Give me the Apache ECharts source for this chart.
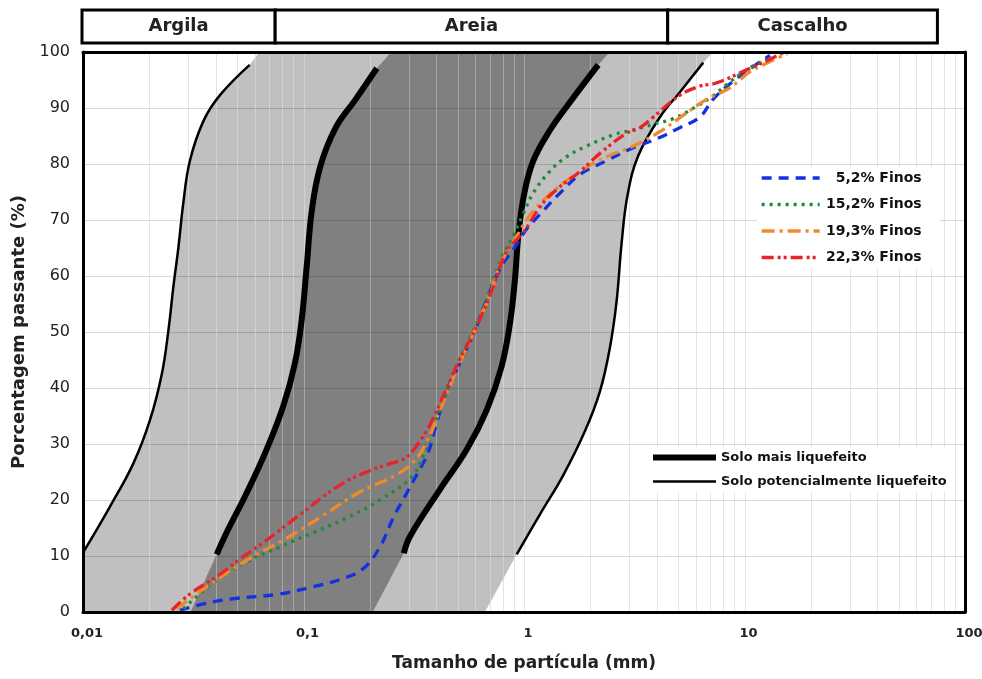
<!DOCTYPE html>
<html><head><meta charset="utf-8">
<script src="https://cdn.jsdelivr.net/npm/echarts@6/dist/echarts.min.js"></script>
<style>html,body{margin:0;padding:0;background:#fff}#c{width:982px;height:679px}</style>
</head><body><div id="c"></div>
<script>
// ---------- data ----------
const xTickLabels = ['0,01', '0,1', '1', '10', '100'];
const yGridValues = [10, 20, 30, 40, 50, 60, 70, 80, 90];
const xGridValues = [0.02,0.03,0.04,0.05,0.06,0.07,0.08,0.09,
  0.1,0.2,0.3,0.4,0.5,0.6,0.7,0.8,0.9,
  1,2,3,4,5,6,7,8,9,
  10,20,30,40,50,60,70,80,90];
const classNames = ['Argila', 'Areia', 'Cascalho'];
const classBounds = [0.01, 0.075, 4.5, 75];

// envelope curves [mm, % passing]
const thinLeft = [[0.01,10.6],[0.0132,18.7],[0.0169,26.5],[0.0201,34.2],[0.0228,42.6],[0.0244,50.3],[0.0257,58.1],[0.0271,65.2],[0.0285,73],[0.0305,80.5],[0.0352,87.7],[0.0418,92.3],[0.057,97.7]];
const thinRight = [[0.927,10.3],[1.18,17.4],[1.51,24.5],[1.89,32.3],[2.21,39.4],[2.45,47.1],[2.63,55.5],[2.77,65.8],[2.95,74.5],[3.3,81.5],[4.14,88.4],[5.11,92.9],[6.5,98.1]];
const thickLeft = [[0.0404,10.3],[0.0448,14.2],[0.0553,21.3],[0.068,29.0],[0.081,36.8],[0.0915,44.5],[0.0982,52.3],[0.1035,61.9],[0.109,71.6],[0.119,79.5],[0.14,86.5],[0.172,91.5],[0.215,97.1]];
const thickRight = [[0.285,10.5],[0.304,13.5],[0.416,21.9],[0.55,29.0],[0.678,36.1],[0.792,43.9],[0.864,51.6],[0.91,59.4],[0.942,67.1],[1.0,74.5],[1.1,80.5],[1.3,85.8],[1.6,90.8],[2.17,97.7]];
// band extensions beyond the drawn curves
const lightBandLeftEnds = [[0.01,0],[0.063,100]];
const lightBandRightEnds = [[0.665,0],[7.2,100]];
const darkBandLeftEnds = [[0.0307,0],[0.25,100]];
const darkBandRightEnds = [[0.206,0],[2.45,100]];

// grading curves
const fines52 = [[0.0275,0.3],[0.034,1.3],[0.0465,2.3],[0.078,3.2],[0.11,4.5],[0.1465,5.8],[0.186,7.7],[0.222,11.6],[0.255,16.8],[0.288,20.6],[0.326,24.5],[0.367,28.4],[0.40,33.5],[0.446,39.4],[0.513,44.5],[0.60,50.3],[0.654,54.2],[0.778,61.3],[0.91,65.2],[1.028,68.4],[1.18,71],[1.456,74.8],[1.79,78.1],[2.37,80.6],[3.13,82.9],[4.0,84.5],[5.1,86.5],[6.28,88.4],[7.22,91.6],[8.9,94.8],[10.96,97.4],[13.05,99.4]];
const fines152 = [[0.0285,0.6],[0.039,5.2],[0.0553,9.0],[0.078,11.6],[0.1107,14.2],[0.157,16.8],[0.222,20.0],[0.315,24.5],[0.362,29.7],[0.416,36.1],[0.478,42.6],[0.569,49.0],[0.654,54.2],[0.778,62.6],[0.893,67.1],[0.99,71],[1.10,74.8],[1.31,78.7],[1.56,81.3],[1.92,83.2],[2.54,85.2],[3.13,86.1],[3.86,87.1],[4.76,88.1],[6.0,90.2],[7.22,92.2],[8.3,94.2],[10.2,96.8],[12.6,98.7]];
const fines193 = [[0.0266,0.6],[0.0364,4.5],[0.0562,9.4],[0.084,13.2],[0.121,17.1],[0.1775,21.3],[0.264,24.5],[0.315,26.8],[0.362,30.3],[0.416,36.1],[0.495,43.2],[0.589,49.7],[0.702,56.8],[0.778,61.9],[0.927,67.1],[1.10,71.6],[1.456,76.1],[1.92,79.4],[2.37,81.3],[3.13,83.2],[4.14,85.8],[5.27,88.7],[6.7,91.5],[8.5,93.5],[10.6,96.5],[12.6,98],[15.6,99.7]];
const fines223 = [[0.0253,0.3],[0.0305,3.2],[0.041,6.5],[0.0525,9.7],[0.0669,12.6],[0.0964,17.4],[0.1415,22.3],[0.187,24.8],[0.247,26.5],[0.288,27.4],[0.326,29.7],[0.375,33.5],[0.446,40],[0.513,45.2],[0.61,51.0],[0.726,58.1],[0.836,64.5],[0.99,67.7],[1.18,72.3],[1.41,75.5],[1.80,78.7],[2.21,81.9],[2.92,85.5],[3.36,86.5],[3.86,88.4],[5.10,92.3],[6.28,93.9],[7.5,94.5],[10.6,97.1],[12.6,98.4],[15.0,99.9]];

const seriesNames = ['5,2% Finos', '15,2% Finos', '19,3% Finos', '22,3% Finos'];
const envelopeNames = ['Solo mais liquefeito', 'Solo potencialmente liquefeito'];

// ---------- chart ----------
const FONT = '"DejaVu Sans", "Liberation Sans", sans-serif';
const chart = echarts.init(document.getElementById('c'), null, {renderer: 'canvas'});

function vGrid(color, z) {
  return {
    type: 'custom', silent: true, z: z, xAxisIndex: 0, yAxisIndex: 0,
    data: xGridValues.map(v => [v, 0]),
    renderItem: (p, api) => {
      const a = api.coord([api.value(0), 0]);
      const b = api.coord([api.value(0), 100]);
      const x = Math.round(a[0]) + 0.5;
      return {type: 'line', shape: {x1: x, y1: a[1], x2: x, y2: b[1]}, style: {stroke: color, lineWidth: 1}};
    }
  };
}
function hGrid(color, z) {
  return {
    type: 'custom', silent: true, z: z, xAxisIndex: 0, yAxisIndex: 0,
    data: yGridValues.map(v => [0.01, v]),
    renderItem: (p, api) => {
      const a = api.coord([0.01, api.value(1)]);
      const b = api.coord([100, api.value(1)]);
      const y = Math.round(a[1]) + 0.5;
      return {type: 'line', shape: {x1: a[0], y1: y, x2: b[0], y2: y}, style: {stroke: color, lineWidth: 1}};
    }
  };
}
function band(leftCurve, leftEnds, rightCurve, rightEnds, color, z) {
  const pts = [leftEnds[0]].concat(leftCurve, [leftEnds[1], rightEnds[1]], rightCurve.slice().reverse(), [rightEnds[0]]);
  return {
    type: 'custom', silent: true, z: z, xAxisIndex: 0, yAxisIndex: 0,
    data: [[0.1, 50]],
    renderItem: (p, api) => ({
      type: 'polygon',
      shape: {points: pts.map(pt => api.coord(pt))},
      style: {fill: color}
    })
  };
}
function envLine(name, data, width) {
  return {
    type: 'line', name: name, data: data, smooth: 0.4, symbol: 'none', showSymbol: false, z: 4,
    lineStyle: {color: '#000', width: width, cap: 'butt'}, itemStyle: {color: '#000'}, silent: true, clip: true
  };
}
function gradLine(name, data, color, dash) {
  return {
    type: 'line', name: name, data: data, smooth: 0.4, symbol: 'none', showSymbol: false, z: 5,
    lineStyle: {color: color, width: 3.3, type: dash, cap: 'butt'}, itemStyle: {color: color}, silent: true
  };
}

const option = {
  backgroundColor: '#ffffff',
  animation: false,
  grid: [
    {left: 83, right: 17, top: 52, bottom: 67, outerBoundsMode: 'none', containLabel: false},
    {left: 82, right: 17, top: 10, height: 33, outerBoundsMode: 'none', containLabel: false}
  ],
  xAxis: [
    {
      type: 'log', logBase: 10, gridIndex: 0, min: 0.01, max: 100, position: 'bottom', z: 10,
      axisLine: {show: true, onZero: false, lineStyle: {color: '#000', width: 3}},
      axisTick: {show: false}, splitLine: {show: false}, minorSplitLine: {show: false},
      axisLabel: {
        formatter: v => xTickLabels[Math.round(Math.log10(v)) + 2],
        fontFamily: FONT, fontWeight: 'bold', fontSize: 13, color: '#222', margin: 15, padding: [0, 0, 0, 8]
      },
      name: 'Tamanho de partícula (mm)', nameLocation: 'middle', nameGap: 43,
      nameTextStyle: {fontFamily: FONT, fontWeight: 'bold', fontSize: 17, color: '#222'}
    },
    {
      type: 'log', logBase: 10, gridIndex: 0, min: 0.01, max: 100, position: 'top', z: 10,
      axisLine: {show: true, onZero: false, lineStyle: {color: '#000', width: 3}},
      axisTick: {show: false}, splitLine: {show: false}, axisLabel: {show: false}
    },
    {type: 'log', logBase: 10, gridIndex: 1, min: 0.01, max: 100, show: false}
  ],
  yAxis: [
    {
      type: 'value', gridIndex: 0, min: 0, max: 100, interval: 10, position: 'left', z: 10,
      axisLine: {show: true, onZero: false, lineStyle: {color: '#000', width: 3}},
      axisTick: {show: false}, splitLine: {show: false},
      axisLabel: {fontFamily: FONT, fontSize: 16, color: '#222', margin: 13},
      name: 'Porcentagem passante (%)', nameLocation: 'middle', nameGap: 50,
      nameTextStyle: {fontFamily: FONT, fontWeight: 'bold', fontSize: 18, color: '#222'}
    },
    {
      type: 'value', gridIndex: 0, min: 0, max: 100, position: 'right', z: 10,
      axisLine: {show: true, onZero: false, lineStyle: {color: '#000', width: 3}},
      axisTick: {show: false}, splitLine: {show: false}, axisLabel: {show: false}
    },
    {type: 'value', gridIndex: 1, min: 0, max: 1, show: false}
  ],
  legend: [
    {
      data: seriesNames, orient: 'vertical', left: 757, top: 167,
      itemWidth: 58, itemHeight: 14, itemGap: 12.5, padding: [4, 18, 4, 3],
      backgroundColor: '#ffffff', selectedMode: false,
      itemStyle: {opacity: 0},
      lineStyle: {width: 'inherit'},
      formatter: n => '{r|' + n + '}',
      textStyle: {
        fontFamily: FONT, fontWeight: 'bold', fontSize: 14, color: '#111',
        rich: {r: {width: 97, align: 'right', fontFamily: FONT, fontWeight: 'bold', fontSize: 14, color: '#111'}}
      }
    },
    {
      data: envelopeNames, orient: 'vertical', left: 643, top: 447,
      itemWidth: 63, itemHeight: 14, itemGap: 11, padding: [4, 8, 4, 7],
      backgroundColor: '#ffffff', selectedMode: false,
      itemStyle: {opacity: 0},
      lineStyle: {width: 'inherit'},
      textStyle: {fontFamily: FONT, fontWeight: 'bold', fontSize: 13, color: '#111'}
    }
  ],
  series: [
    vGrid('#d9d9d9', 1),
    band(thinLeft, lightBandLeftEnds, thinRight, lightBandRightEnds, '#c0c0c0', 2),
    band(thickLeft, darkBandLeftEnds, thickRight, darkBandRightEnds, '#808080', 2),
    hGrid('rgba(0,0,0,0.15)', 3),
    vGrid('rgba(255,255,255,0.3)', 3),
    envLine(envelopeNames[0], thickLeft, 6),
    envLine(envelopeNames[0], thickRight, 6),
    envLine(envelopeNames[1], thinLeft, 2.5),
    envLine(envelopeNames[1], thinRight, 2.5),
    gradLine(seriesNames[0], fines52, '#1430e0', [10, 7]),
    gradLine(seriesNames[1], fines152, '#22883a', [3, 5]),
    gradLine(seriesNames[2], fines193, '#f08a2c', [13, 5, 3, 5]),
    gradLine(seriesNames[3], fines223, '#e8232a', [12, 4, 3, 3, 3, 4]),
    {
      type: 'custom', silent: true, xAxisIndex: 2, yAxisIndex: 2, z: 10,
      data: classNames.map((n, i) => [classBounds[i], classBounds[i + 1], i]),
      renderItem: (p, api) => {
        const a = api.coord([api.value(0), 0]);
        const b = api.coord([api.value(1), 1]);
        return {
          type: 'group',
          children: [
            {type: 'rect', shape: {x: a[0], y: b[1], width: b[0] - a[0], height: a[1] - b[1]},
             style: {fill: '#fff', stroke: '#000', lineWidth: 3}},
            {type: 'text', style: {text: classNames[api.value(2)], x: (a[0] + b[0]) / 2, y: (a[1] + b[1]) / 2,
             align: 'center', verticalAlign: 'middle', font: 'bold 18px ' + FONT, fill: '#222'}}
          ]
        };
      }
    }
  ]
};
chart.setOption(option);
</script>
</body></html>
